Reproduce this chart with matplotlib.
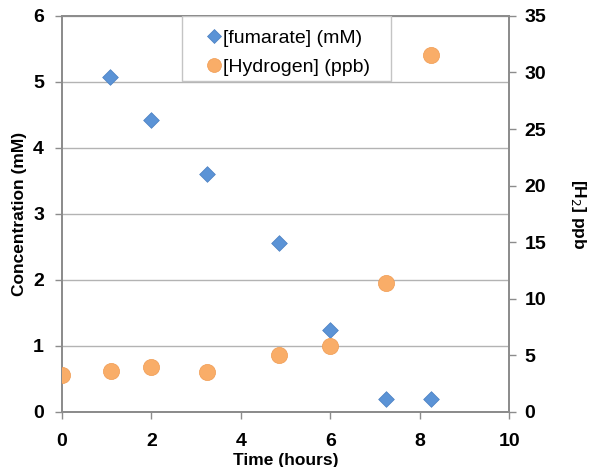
import matplotlib
matplotlib.use("Agg")
import matplotlib.pyplot as plt
from matplotlib.lines import Line2D
from matplotlib.patches import Rectangle

# ------------------------------------------------------------------
# Data
# ------------------------------------------------------------------
fum_time = [1.07, 2.0, 3.25, 4.85, 6.0, 7.25, 8.25]
fumarate_mM = [5.08, 4.43, 3.60, 2.56, 1.24, 0.19, 0.19]

h2_time = [0.0, 1.1, 2.0, 3.25, 4.85, 6.0, 7.25, 8.25]
hydrogen_ppb = [3.3, 3.6, 4.0, 3.5, 5.0, 5.8, 11.4, 31.5]

x_ticks = [0, 2, 4, 6, 8, 10]
left_ticks = [0, 1, 2, 3, 4, 5, 6]
right_ticks = [0, 5, 10, 15, 20, 25, 30, 35]

BLUE = "#5b93d6"
ORANGE = "#f9ad68"
SPINE = "#8c8c8c"

plt.rcParams["font.family"] = ["Liberation Sans", "DejaVu Sans"]

fig = plt.figure(figsize=(5.90, 4.67), dpi=100)
ax = fig.add_axes([0.105, 0.118, 0.758, 0.848])
ax2 = ax.twinx()

ax.scatter(fum_time, fumarate_mM, marker="D", s=64, color=BLUE,
           edgecolor="#4a7fc0", linewidth=0.5, zorder=3)
ax2.scatter(h2_time, hydrogen_ppb, marker="o", s=135, color=ORANGE,
            edgecolor="#f09a50", linewidth=0.5, zorder=3)

ax.set_xlim(0, 10)
ax.set_ylim(0, 6)
ax2.set_ylim(0, 35)
ax.set_xticks(x_ticks)
ax.set_yticks(left_ticks)
ax2.set_yticks(right_ticks)

ax.grid(axis="y", color="#b3b3b3", linewidth=1.0)
ax.set_axisbelow(True)

for a in (ax, ax2):
    for sp in a.spines.values():
        sp.set_color(SPINE)
        sp.set_linewidth(1.3)
    a.tick_params(colors=SPINE, length=5, width=1.0, labelsize=14,
                  labelcolor="black")
for lab in ax.get_xticklabels() + ax.get_yticklabels() + ax2.get_yticklabels():
    lab.set_fontweight("bold")
ax.tick_params(axis="x", pad=10)
ax.tick_params(axis="y", pad=8)
ax2.tick_params(axis="y", pad=6)

ax.set_xlabel("Time (hours)", fontsize=12.5, fontweight="bold", labelpad=2)
ax.set_ylabel("Concentration (mM)", fontsize=12.5, fontweight="bold", labelpad=4)
ax2.set_ylabel("[H$_2$] ppb", fontsize=12.5, fontweight="bold",
               rotation=270, labelpad=30)

# legend box: white rectangle hanging from the top spine
box = Rectangle((0.268, 0.836), 0.468, 0.164, transform=ax2.transAxes,
                facecolor="white", edgecolor="#c4c4c4", linewidth=1.0,
                zorder=4)
ax2.add_patch(box)

handles = [
    Line2D([], [], marker="D", linestyle="none", markersize=7,
           color=BLUE, markeredgecolor="#4a7fc0", markeredgewidth=0.5),
    Line2D([], [], marker="o", linestyle="none", markersize=10,
           color=ORANGE, markeredgecolor="#f09a50", markeredgewidth=0.5),
]
leg = ax2.legend(handles, ["[fumarate] (mM)", "[Hydrogen] (ppb)"],
                 loc="upper left", bbox_to_anchor=(0.31, 0.98),
                 fontsize=14, frameon=False,
                 handletextpad=0.05, handlelength=0.8, borderpad=0.3,
                 labelspacing=0.55, borderaxespad=0)
leg.set_zorder(5)

fig.savefig("out.png", dpi=100)
